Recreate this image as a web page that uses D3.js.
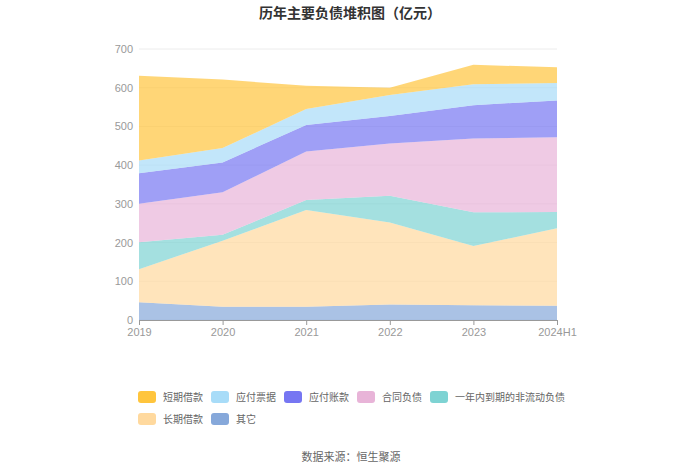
<!DOCTYPE html>
<html>
<head>
<meta charset="utf-8">
<script src="https://cdn.jsdelivr.net/npm/d3@7"></script>
<style>
  body { margin: 0; background: #fff; }
  svg { font-family: "Noto Sans CJK SC", "Noto Sans", sans-serif; }
</style>
</head>
<body>
<svg class="chart"></svg>
<script>
// Data (亿元), stacked from bottom to top
var years = ["2019", "2020", "2021", "2022", "2023", "2024H1"];
var qita = [46, 34, 34, 40, 38, 37];          // 其它
var changqi = [85, 171, 250, 212, 153, 200];  // 长期借款
var yinian = [70, 15, 26, 69, 87, 42];        // 一年内到期的非流动负债
var hetong = [99, 110, 125, 135, 191, 193];   // 合同负债
var zhangkuan = [79, 77, 69, 71, 86, 95];     // 应付账款
var piaoju = [33, 37, 41, 54, 54, 45];        // 应付票据
var duanqi = [219, 177, 60, 19, 50, 41];      // 短期借款
var yTicks = [0, 100, 200, 300, 400, 500, 600, 700];

var series = [
  {name: "其它", values: qita, color: "#86A8DA"},
  {name: "长期借款", values: changqi, color: "#FFD99E"},
  {name: "一年内到期的非流动负债", values: yinian, color: "#7ED3D3"},
  {name: "合同负债", values: hetong, color: "#E8B4D8"},
  {name: "应付账款", values: zhangkuan, color: "#7676F2"},
  {name: "应付票据", values: piaoju, color: "#A8DCF8"},
  {name: "短期借款", values: duanqi, color: "#FFC53D"}
];
var legendOrder = ["短期借款", "应付票据", "应付账款", "合同负债", "一年内到期的非流动负债", "长期借款", "其它"];

var width = 700, height = 474;
var plot = {left: 139, right: 557, top: 49, bottom: 320};

var svg = d3.select(".chart")
    .attr("width", width)
    .attr("height", height);

// Build table for the stack
var table = years.map(function(y, i) {
  var row = {year: y};
  series.forEach(function(s) { row[s.name] = s.values[i]; });
  return row;
});

var stack = d3.stack().keys(series.map(function(s) { return s.name; }));
var layers = stack(table);

var x = d3.scalePoint().domain(years).range([plot.left, plot.right]);
var y = d3.scaleLinear().domain([0, 700]).range([plot.bottom, plot.top]);

// Gridlines
svg.append("g")
    .selectAll("line")
    .data(yTicks)
    .enter().append("line")
    .attr("x1", plot.left)
    .attr("x2", plot.right)
    .attr("y1", function(d) { return y(d); })
    .attr("y2", function(d) { return y(d); })
    .attr("stroke", "#ECECEC")
    .attr("stroke-width", 1);

// Areas
var area = d3.area()
    .x(function(d) { return x(d.data.year); })
    .y0(function(d) { return y(d[0]); })
    .y1(function(d) { return y(d[1]); });

svg.append("g")
    .selectAll("path")
    .data(layers)
    .enter().append("path")
    .attr("d", area)
    .attr("fill", function(d, i) { return series[i].color; })
    .attr("fill-opacity", 0.7);

// Y axis (labels only)
var yAxis = svg.append("g")
    .attr("transform", "translate(" + (plot.left - 6) + ",0)")
    .call(d3.axisLeft(y).tickValues(yTicks).tickSize(0).tickPadding(0));
yAxis.select(".domain").remove();
yAxis.selectAll("text")
    .attr("fill", "#999")
    .style("font-size", "11px");

// X axis
var xAxis = svg.append("g")
    .attr("transform", "translate(0," + plot.bottom + ")")
    .call(d3.axisBottom(x).tickSize(5).tickPadding(3));
xAxis.select(".domain").attr("stroke", "#999").attr("d", "M" + plot.left + ",0.5H" + plot.right);
xAxis.selectAll("line").attr("stroke", "#999");
xAxis.selectAll("text")
    .attr("fill", "#999")
    .style("font-size", "11px");

// Title
svg.append("text")
    .attr("x", width / 2)
    .attr("y", 18)
    .attr("text-anchor", "middle")
    .attr("fill", "#333")
    .style("font-size", "14px")
    .style("font-weight", "bold")
    .text("历年主要负债堆积图（亿元）");

// Legend
var legend = svg.append("g");
var lx = 138, ly = 391, perRow = 5;
legendOrder.forEach(function(name, i) {
  var s = series.find(function(d) { return d.name === name; });
  if (i === perRow) { lx = 138; ly = 413; }
  var g = legend.append("g").attr("transform", "translate(" + lx + "," + ly + ")");
  g.append("rect")
      .attr("width", 18)
      .attr("height", 12)
      .attr("rx", 3)
      .attr("fill", s.color);
  var t = g.append("text")
      .attr("x", 25)
      .attr("y", 10)
      .attr("fill", "#666")
      .style("font-size", "10px")
      .text(name);
  lx += 25 + t.node().getComputedTextLength() + 8;
});

// Source
svg.append("text")
    .attr("x", 351)
    .attr("y", 461)
    .attr("text-anchor", "middle")
    .attr("fill", "#666")
    .style("font-size", "11px")
    .text("数据来源：恒生聚源");
</script>
</body>
</html>
